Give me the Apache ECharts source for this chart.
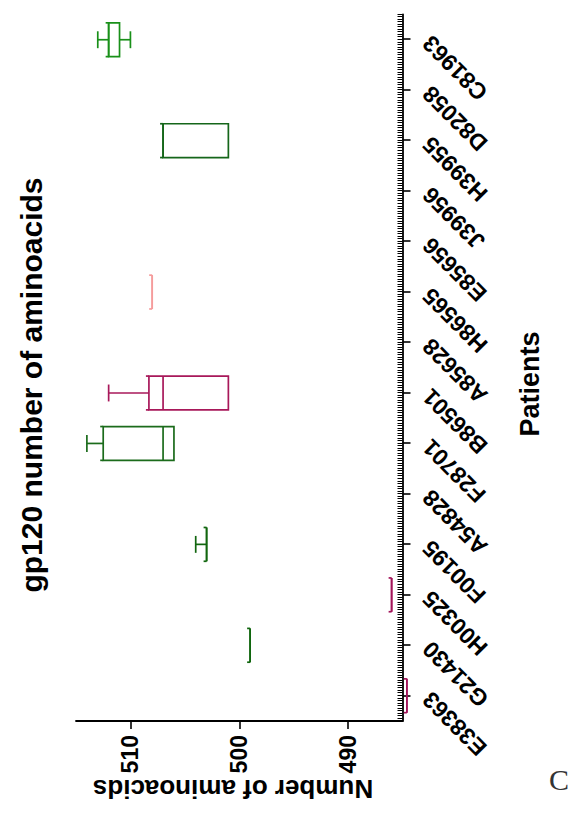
<!DOCTYPE html>
<html>
<head>
<meta charset="utf-8">
<script src="https://cdn.jsdelivr.net/npm/echarts@6/dist/echarts.min.js"></script>
<style>
  html, body { margin: 0; padding: 0; background: #ffffff; overflow: hidden; }
  #stage { position: relative; width: 573px; height: 833px; overflow: hidden; }
  /* the figure is laid out landscape and turned a quarter turn counter-clockwise */
  #chart {
    position: absolute; left: 0; top: 0;
    width: 833px; height: 573px;
    transform-origin: 0 0;
    transform: translate(0, 833px) rotate(-90deg);
  }
</style>
</head>
<body>
<div id="stage"><div id="chart"></div></div>
<script>
// gp120 length (number of amino acids) per patient: five-number summaries
const patients = ['E38363', 'G21430', 'H00325', 'F00195', 'A54828', 'F28701', 'B86501',
                  'A85628', 'H86565', 'E85656', 'J39956', 'H39955', 'D82058', 'C81963'];
const minimum       = [484.6, 499, 486, 503, null, 506,   501,   null, 508, null, null, 501, null, 510];
const lowerQuartile = [484.6, 499, 486, 503, null, 506,   501,   null, 508, null, null, 501, null, 511];
const median        = [484.6, 499, 486, 503, null, 507,   507,   null, 508, null, null, 507, null, 512];
const upperQuartile = [484.6, 499, 486, 503, null, 512.5, 508.3, null, 508, null, null, 507, null, 512];
const maximum       = [484.6, 499, 486, 504, null, 514,   512,   null, 508, null, null, 507, null, 513];
const valueTicks = [490, 500, 510];

// stroke colour of each patient's box
const boxColors = ['#a3155a', '#11660f', '#a3155a', '#11660f', null, '#1b6b1b', '#a8185a',
                   null, '#f59c9c', null, null, '#15661a', null, '#199019'];

const boxData = [];
patients.forEach(function (p, i) {
  if (median[i] == null) return;
  boxData.push([i, minimum[i], lowerQuartile[i], median[i], upperQuartile[i], maximum[i]]);
});

const FONT = '"Liberation Sans", Arial, Helvetica, sans-serif';

function renderBox(params, api) {
  const idx = api.value(0);
  const band = api.size([1, 0])[0];
  const half = band * 0.335;
  const capHalf = half / 2;
  const cx = api.coord([idx, api.value(3)])[0];
  const py = function (dim) { return api.coord([idx, api.value(dim)])[1]; };
  const yMin = py(1), yQ1 = py(2), yMed = py(3), yQ3 = py(4), yMax = py(5);
  const style = { stroke: boxColors[idx], lineWidth: 1.7, fill: null };
  const children = [];
  if (yMax !== yQ3) {
    children.push({ type: 'line', shape: { x1: cx, y1: yQ3, x2: cx, y2: yMax }, style: style });
    children.push({ type: 'line', shape: { x1: cx - capHalf, y1: yMax, x2: cx + capHalf, y2: yMax }, style: style });
  }
  if (yMin !== yQ1) {
    children.push({ type: 'line', shape: { x1: cx, y1: yQ1, x2: cx, y2: yMin }, style: style });
    children.push({ type: 'line', shape: { x1: cx - capHalf, y1: yMin, x2: cx + capHalf, y2: yMin }, style: style });
  }
  children.push({
    type: 'polygon',
    shape: { points: [[cx - half, yQ3], [cx + half, yQ3], [cx + half, yQ1], [cx - half, yQ1]] },
    style: style
  });
  children.push({ type: 'line', shape: { x1: cx - half, y1: yMed, x2: cx + half, y2: yMed }, style: style });
  // short end marks at the box corners
  children.push({ type: 'line', shape: { x1: cx - half, y1: yQ3, x2: cx - half, y2: yQ3 - 3 }, style: style });
  children.push({ type: 'line', shape: { x1: cx + half, y1: yQ3, x2: cx + half, y2: yQ3 - 3 }, style: style });
  return { type: 'group', children: children };
}

const chart = echarts.init(document.getElementById('chart'), null, { renderer: 'svg', width: 833, height: 573 });

chart.setOption({
  animation: false,
  backgroundColor: '#ffffff',
  grid: { left: 112, top: 76, width: 706.5, height: 326.5 },
  xAxis: [{
    type: 'category',
    position: 'bottom',
    data: patients,
    boundaryGap: true,
    axisLine: { show: true, lineStyle: { color: '#000', width: 1.8 } },
    axisTick: { show: true, alignWithLabel: true, length: 8, lineStyle: { color: '#000', width: 1.6 } },
    axisLabel: {
      interval: 0, rotate: 45, margin: 24,
      color: '#000', fontFamily: FONT, fontWeight: 'bold', fontSize: 23
    },
    splitLine: { show: false }
  }, {
    // fine ruler marks along the patient axis
    type: 'value',
    position: 'bottom',
    gridIndex: 0,
    offset: 0,
    min: 0, max: 14, interval: 0.05,
    axisLine: { show: false, onZero: false },
    axisTick: { show: true, inside: true, length: 5, lineStyle: { color: '#000', width: 1 } },
    axisLabel: { show: false },
    splitLine: { show: false }
  }],
  yAxis: {
    type: 'value',
    min: 485, max: 515,
    axisLine: { show: true, lineStyle: { color: '#000', width: 1.8 } },
    axisTick: { show: true, customValues: valueTicks, length: 8, lineStyle: { color: '#000', width: 1.6 } },
    axisLabel: {
      customValues: valueTicks, margin: 14,
      color: '#000', fontFamily: FONT, fontWeight: 'bold', fontSize: 23
    },
    splitLine: { show: false }
  },
  graphic: [
    {
      type: 'text', x: 448, y: 31,
      style: { text: 'gp120 number of aminoacids', fill: '#000', fontFamily: FONT, fontWeight: 'bold',
               fontSize: 30, textAlign: 'center', textVerticalAlign: 'middle' }
    },
    {
      type: 'text', x: 449, y: 530,
      style: { text: 'Patients', fill: '#000', fontFamily: FONT, fontWeight: 'bold',
               fontSize: 27, textAlign: 'center', textVerticalAlign: 'middle' }
    },
    {
      type: 'text', x: 44, y: 233, rotation: Math.PI / 2,
      style: { text: 'Number of aminoacids', fill: '#000', fontFamily: FONT, fontWeight: 'bold',
               fontSize: 26, textAlign: 'center', textVerticalAlign: 'middle' }
    },
    {
      type: 'text', x: 54, y: 559, rotation: -Math.PI / 2,
      style: { text: 'C', fill: '#333', fontFamily: '"Liberation Serif", "DejaVu Serif", serif',
               fontSize: 30, textAlign: 'center', textVerticalAlign: 'middle' }
    }
  ],
  series: [{
    type: 'custom',
    renderItem: renderBox,
    encode: { x: 0, y: [1, 2, 3, 4, 5] },
    data: boxData,
    clip: false
  }]
});
</script>
</body>
</html>
